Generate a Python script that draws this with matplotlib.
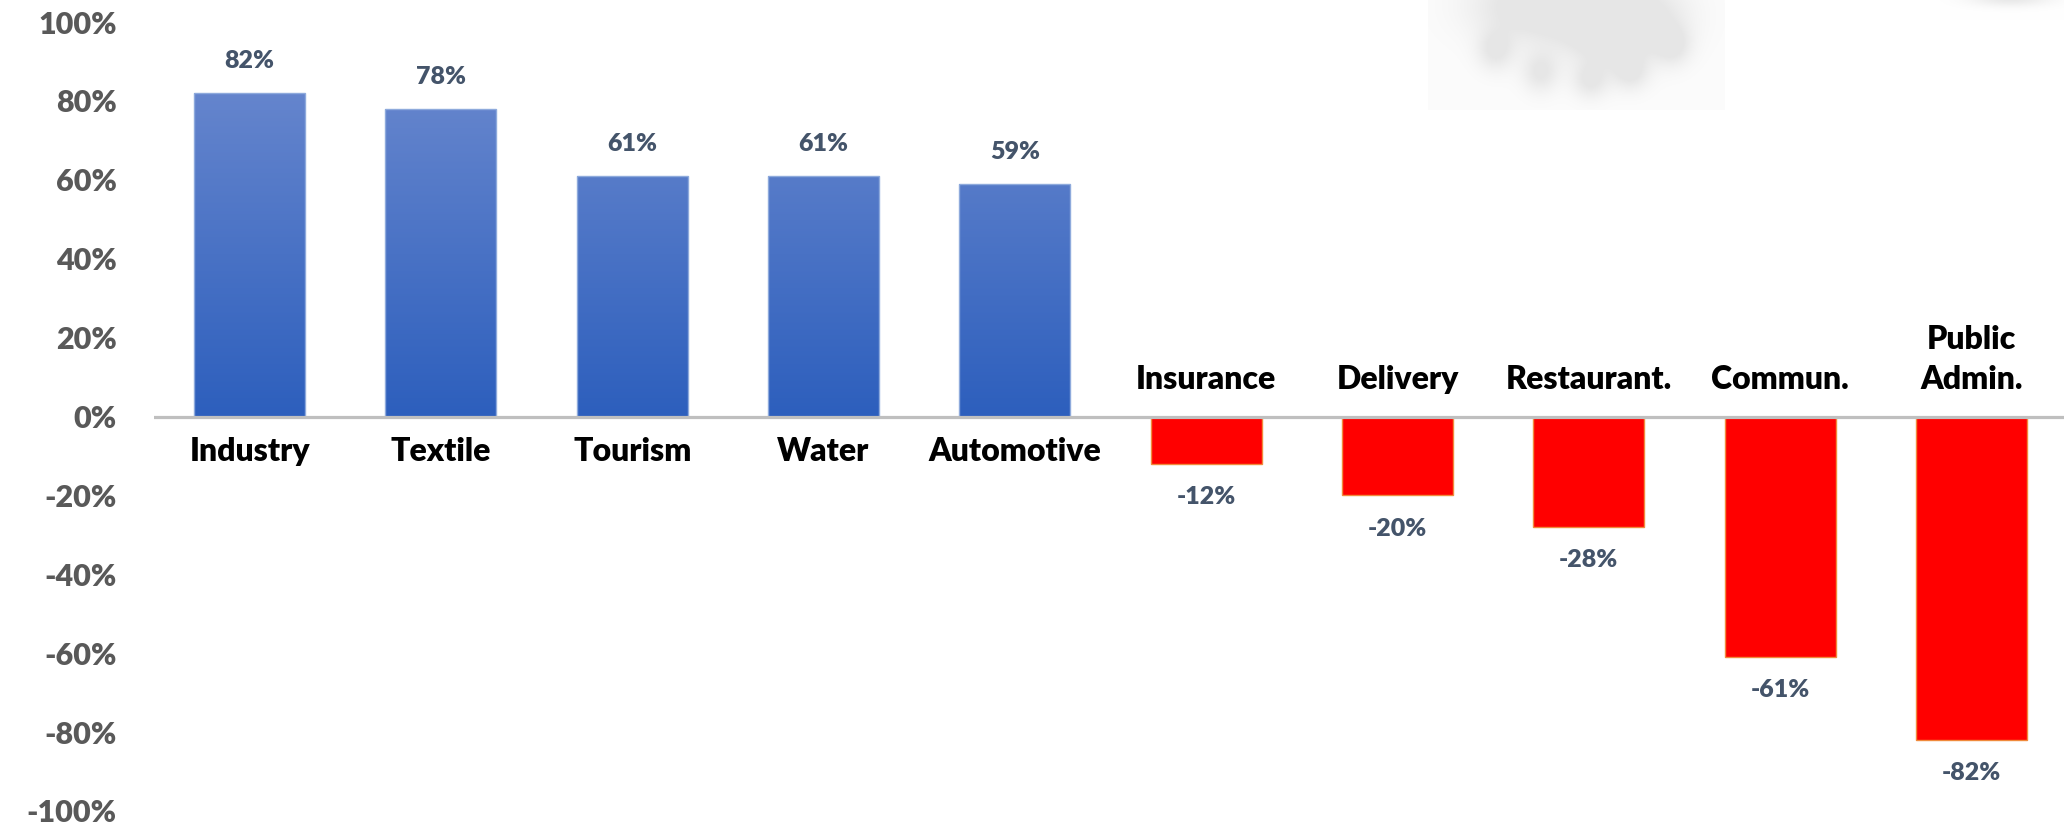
import numpy as np
import matplotlib
matplotlib.use("Agg")
import matplotlib.pyplot as plt
from matplotlib.colors import LinearSegmentedColormap

# Sector change figures
sectors = ["Industry", "Textile", "Tourism", "Water", "Automotive",
           "Insurance", "Delivery", "Restaurant.", "Commun.", "Public\nAdmin."]
changes = [0.82, 0.78, 0.61, 0.61, 0.59, -0.12, -0.20, -0.28, -0.61, -0.82]
yticks = [-1.0, -0.8, -0.6, -0.4, -0.2, 0.0, 0.2, 0.4, 0.6, 0.8, 1.0]
ytick_labels = ["-100%", "-80%", "-60%", "-40%", "-20%", "0%",
                "20%", "40%", "60%", "80%", "100%"]

plt.rcParams["font.family"] = ["Lato", "DejaVu Sans"]

W, H = 2064, 826
fig = plt.figure(figsize=(W / 100, H / 100), dpi=100)
fig.patch.set_facecolor("white")

# faint decorative backdrop in the upper right
deco = fig.add_axes([0, 0, 1, 1], zorder=0)
deco.axis("off")
gx, gy = np.meshgrid(np.arange(1400, 1760), np.arange(0, 130))
field = np.zeros(gx.shape)
lobes = [(1520, 5, 55, 35), (1580, 10, 60, 40), (1645, 15, 45, 35),
         (1495, 50, 18, 20), (1540, 72, 18, 20), (1590, 80, 18, 18),
         (1630, 72, 18, 18), (1672, 45, 18, 20), (1610, 40, 40, 28)]
for cx, cy, sx, sy in lobes:
    field += np.exp(-(((gx - cx) / sx) ** 2 + ((gy - cy) / sy) ** 2))
field = np.clip(field, 0, 1)
in_rect = (gx >= 1428) & (gx <= 1724) & (gy <= 109)
shade = np.where(in_rect, 0.988, 1.0) - 0.085 * field * in_rect
deco.imshow(np.dstack([shade, shade, shade]), extent=(1400, 1760, 130, 0),
            interpolation="bilinear", zorder=0)
gx2, gy2 = np.meshgrid(np.arange(1940, 2064), np.arange(0, 20))
f2 = np.exp(-(((gx2 - 2010) / 40) ** 2 + ((gy2 + 2) / 8) ** 2))
s2 = 1.0 - 0.09 * f2
deco.imshow(np.dstack([s2, s2, s2]), extent=(1940, 2064, 20, 0), interpolation="bilinear")
deco.set_xlim(0, W)
deco.set_ylim(H, 0)

ax = fig.add_axes([154 / W, 15 / H, 1913 / W, 789 / H], zorder=1)
ax.patch.set_alpha(0)
x = np.arange(len(sectors))

bars = ax.bar(x, changes, width=0.58, zorder=2)
blue_grad = LinearSegmentedColormap.from_list("bg", ["#2d5fbd", "#6585cd"])
for bar, v in zip(bars, changes):
    if v >= 0:
        bar.set_facecolor("none")
        bar.set_edgecolor("#8eaadc")
        bar.set_linewidth(1.0)
        x0, y0 = bar.get_x(), bar.get_y()
        w, h = bar.get_width(), bar.get_height()
        grad = np.linspace(0, 1, 256).reshape(-1, 1)
        im = ax.imshow(grad * (h / 0.82), extent=(x0, x0 + w, y0, y0 + h), origin="lower",
                       cmap=blue_grad, vmin=0, vmax=1, aspect="auto", zorder=1.5)
        im.set_clip_path(bar)
    else:
        bar.set_facecolor("#ff0000")
        bar.set_edgecolor("#f08a3c")
        bar.set_linewidth(1.0)
ax.set_aspect("auto")
ax.set_xlim(-0.5, len(sectors) - 0.5)
ax.set_ylim(-1.0, 1.0)

ax.axhline(0, color="#bfbfbf", lw=2.3, zorder=3)

for s in ax.spines.values():
    s.set_visible(False)
ax.set_xticks([])
ax.set_yticks(yticks)
ax.set_yticklabels(ytick_labels)
ax.tick_params(axis="y", length=0, pad=27, labelsize=22, labelcolor="#595959")
for t in ax.get_yticklabels():
    t.set_fontweight("heavy")

for xi, v, name in zip(x, changes, sectors):
    if v >= 0:
        ax.text(xi, -0.089, name, ha="center", va="center", fontsize=23,
                fontweight="heavy", color="black", zorder=4)
        ax.text(xi, v + 0.081, f"{round(v * 100)}%", ha="center", va="center",
                fontsize=18, fontweight="heavy", color="#44546a", zorder=4)
    else:
        cy = 0.145 if "\n" in name else 0.094
        ax.text(xi, cy, name, ha="center", va="center", fontsize=23,
                fontweight="heavy", color="black", linespacing=1.45, zorder=4)
        ax.text(xi, v - 0.084, f"{round(v * 100)}%", ha="center", va="center",
                fontsize=18, fontweight="heavy", color="#44546a", zorder=4)

fig.savefig("out.png", dpi=100, facecolor="white")
